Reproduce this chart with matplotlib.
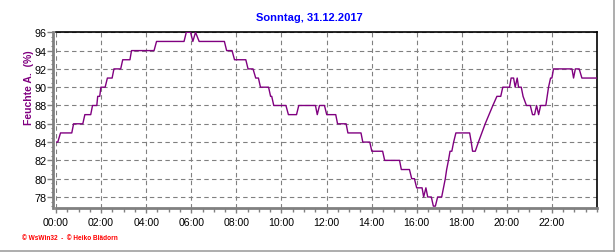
import matplotlib.pyplot as plt
import numpy as np
from matplotlib.lines import Line2D
from matplotlib.ticker import FixedLocator, FuncFormatter, MultipleLocator

plt.rcParams["font.family"] = ["Liberation Sans", "DejaVu Sans"]

title = "Sonntag, 31.12.2017"
ylabel = "Feuchte A.  (%)"

# Stunden seit Mitternacht / relative Feuchte (%)
hours = [
    0.00, 0.08, 0.20, 0.70, 0.78, 1.19, 1.28, 1.54, 1.62, 1.81, 1.85, 1.94,
    1.99, 2.18, 2.28, 2.49, 2.57, 2.87, 2.96, 3.28, 3.35, 4.35, 4.46, 5.68,
    5.78, 5.97, 6.07, 6.19, 6.35, 7.47, 7.57, 7.81, 7.92, 8.42, 8.52, 8.74,
    8.86, 8.98, 9.07, 9.43, 9.52, 9.57, 9.66, 10.20, 10.31, 10.67, 10.77, 11.51,
    11.59, 11.69, 11.91, 12.01, 12.41, 12.49, 12.87, 12.95, 13.53, 13.61, 13.92, 14.01,
    14.49, 14.58, 15.24, 15.32, 15.68, 15.78, 15.90, 16.00, 16.24, 16.31, 16.41, 16.49,
    16.65, 16.74, 16.83, 16.93, 17.11, 17.19, 17.27, 17.33, 17.41, 17.48, 17.56, 17.64,
    17.74, 18.35, 18.42, 18.48, 18.60, 18.74, 18.89, 19.04, 19.21, 19.38, 19.56, 19.73,
    19.82, 20.12, 20.19, 20.30, 20.37, 20.46, 20.52, 20.64, 20.72, 20.87, 21.04, 21.14,
    21.23, 21.32, 21.41, 21.50, 21.73, 21.79, 21.85, 21.94, 22.00, 22.07, 22.89, 22.96,
    23.04, 23.21, 23.33, 24.00,
]
humidity = [
    84, 84, 85, 85, 86, 86, 87, 87, 88, 88, 89, 89,
    90, 90, 91, 91, 92, 92, 93, 93, 94, 94, 95, 95,
    96, 96, 95, 96, 95, 95, 94, 94, 93, 93, 92, 92,
    91, 91, 90, 90, 89, 89, 88, 88, 87, 87, 88, 88,
    87, 88, 88, 87, 87, 86, 86, 85, 85, 84, 84, 83,
    83, 82, 82, 81, 81, 80, 80, 79, 79, 78, 79, 78,
    78, 77, 77, 78, 78, 79, 80, 81, 82, 83, 83, 84,
    85, 85, 84, 83, 83, 84, 85, 86, 87, 88, 89, 89,
    90, 90, 91, 91, 90, 91, 90, 90, 89, 88, 88, 87,
    87, 88, 87, 88, 88, 89, 90, 91, 91, 92, 92, 91,
    92, 92, 91, 91,
]

yticks = [78, 80, 82, 84, 86, 88, 90, 92, 94, 96]
xticks = [0, 2, 4, 6, 8, 10, 12, 14, 16, 18, 20, 22]

fig = plt.figure(figsize=(6.16, 2.53), dpi=100)
ax = fig.add_axes([56 / 616, 1 - 208.5 / 253, 541 / 616, 175.2 / 253])

ax.plot(hours, humidity, color="#800080", linewidth=1.0, zorder=3)

ax.set_xlim(0, 24)
ax.set_ylim(76.85, 96)

ax.xaxis.set_major_locator(FixedLocator(xticks))
ax.xaxis.set_minor_locator(MultipleLocator(0.5))
ax.xaxis.set_major_formatter(FuncFormatter(lambda v, p: f"{int(v):02d}:00"))
ax.yaxis.set_major_locator(FixedLocator(yticks))
ax.yaxis.set_minor_locator(MultipleLocator(0.5))

ax.grid(True, which="major", color="#808080", linestyle=(0, (4, 3)), linewidth=0.8)

ax.tick_params(axis="x", which="major", length=3.5, width=1, color="#808080",
               labelsize=7.6, pad=3)
ax.tick_params(axis="x", which="minor", length=3, width=1, color="#808080")
ax.tick_params(axis="y", which="major", length=4, width=1, color="#808080",
               labelsize=7.8, pad=1)
ax.tick_params(axis="y", which="minor", length=1.5, width=0.8, color="#808080")

for side in ["left", "bottom"]:
    ax.spines[side].set_color("#808080")
    ax.spines[side].set_linewidth(2)
ax.spines["left"].set_position(("outward", 2))
for side in ["top", "right"]:
    ax.spines[side].set_color("black")
    ax.spines[side].set_linewidth(1.2)

fig.text(309 / 616, 1 - 18 / 253, title, color="#0000FF", fontsize=8,
         fontweight="bold", ha="center", va="center")
fig.text(29 / 616, 1 - 88 / 253, ylabel, color="#800080", fontsize=7.5,
         fontweight="bold", rotation=90, ha="center", va="center")
fig.text(22 / 616, 1 - 239 / 253, "\u00a9 WsWin32  -  \u00a9 Heiko Blädorn",
         color="#FF0000", fontsize=4.7, fontweight="bold", ha="left", va="center")

# grauer Rahmen rechts und unten
fig.add_artist(Line2D([0, 614 / 616], [1.5 / 253, 1.5 / 253], color="#a0a0a0", linewidth=1.2))
fig.add_artist(Line2D([614 / 616, 614 / 616], [1.5 / 253, 1], color="#a0a0a0", linewidth=1.2))

fig.savefig("out.png", dpi=100, facecolor="white")
